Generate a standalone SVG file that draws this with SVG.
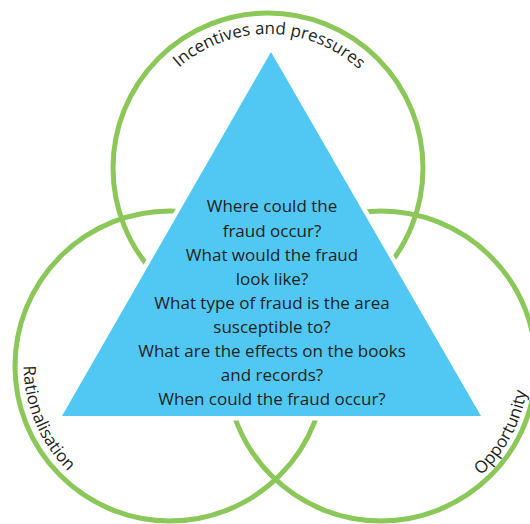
<svg xmlns="http://www.w3.org/2000/svg" width="530" height="524" viewBox="0 0 530 524">
  <style>
    .ring { fill: none; stroke: #8cc759; stroke-width: 5; }
    .label { font-family: "Open Sans", "Noto Sans", sans-serif; font-size: 17px; fill: #231f20; }
    .q { font-family: "Open Sans", "Noto Sans", sans-serif; font-size: 17px; fill: #231f20; text-anchor: middle; }
  </style>
  <defs>
    <path id="arc-top" d="M151.95,101 A134,134 0 0 1 384.05,101"/>
    <path id="arc-left" d="M45.3,288.1 A148,148 0 0 0 139.4,509.8"/>
    <path id="arc-right" d="M401.6,512.6 A147,147 0 0 0 510.8,297"/>
  </defs>

  <rect width="530" height="524" fill="#ffffff"/>

  <!-- three overlapping circles -->
  <g id="circles">
    <g id="incentives"><circle class="ring" cx="268" cy="168" r="155"/></g>
    <g id="rationalisation"><circle class="ring" cx="170" cy="366" r="155"/></g>
    <g id="opportunity"><circle class="ring" cx="381" cy="366" r="155"/></g>
  </g>

  <!-- central triangle with white halo -->
  <g id="triangle">
    <polygon points="271,52 62,416 481,416" fill="#ffffff" stroke="#ffffff" stroke-width="9" stroke-linejoin="miter"/>
    <polygon points="271,52 62,416 481,416" fill="#50c8f3"/>
    <text class="q" x="272" y="212">Where could the</text>
    <text class="q" x="272" y="236.5">fraud occur?</text>
    <text class="q" x="272" y="260.5">What would the fraud</text>
    <text class="q" x="272" y="284.5">look like?</text>
    <text class="q" x="272" y="308.5">What type of fraud is the area</text>
    <text class="q" x="272" y="333">susceptible to?</text>
    <text class="q" x="272" y="357">What are the effects on the books</text>
    <text class="q" x="272" y="381">and records?</text>
    <text class="q" x="272" y="405">When could the fraud occur?</text>
  </g>

  <!-- curved circle labels -->
  <g id="labels">
    <text class="label" text-anchor="middle"><textPath href="#arc-top" startOffset="50.5%">Incentives and pressures</textPath></text>
    <text class="label" text-anchor="middle"><textPath href="#arc-left" startOffset="50%">Rationalisation</textPath></text>
    <text class="label" text-anchor="middle"><textPath href="#arc-right" startOffset="48.5%">Opportunity</textPath></text>
  </g>
</svg>
